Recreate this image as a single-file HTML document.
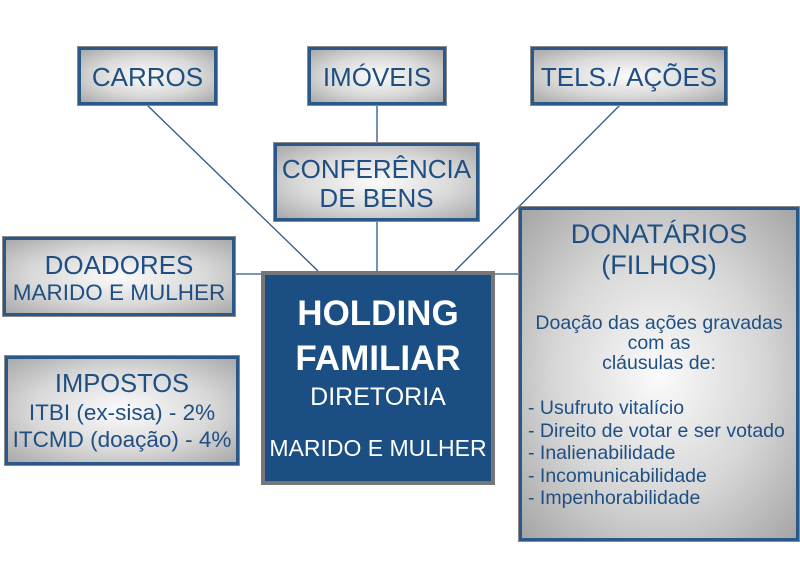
<!DOCTYPE html>
<html><head><meta charset="utf-8"><style>
body{margin:0;width:800px;height:566px;background:#fff;position:relative;overflow:hidden;font-family:"Liberation Sans",sans-serif;}
.b{position:absolute;box-sizing:border-box;border:3px solid #2a5889;outline:1px solid #8a8a8a;background:radial-gradient(ellipse at 50% 50%,#fbfbfb 0%,#d9d9d9 55%,#a9a9a9 100%);color:#1f4f82;text-align:center;white-space:nowrap}
svg{position:absolute;left:0;top:0}
</style></head><body>
<svg width="800" height="566"><g stroke="#2a5889" stroke-width="1.3">
<line x1="147" y1="105" x2="318" y2="271"/><line x1="377" y1="105" x2="377" y2="143"/>
<line x1="377" y1="221" x2="377" y2="271"/><line x1="620" y1="105" x2="455" y2="271"/>
<line x1="235" y1="274" x2="261" y2="274"/><line x1="495" y1="274" x2="519" y2="274"/></g></svg>
<div class="b" style="left:78px;top:47px;width:139px;height:58px;font-size:26px;line-height:54px">CARROS</div>
<div class="b" style="left:308px;top:47px;width:138px;height:58px;font-size:26px;line-height:54px">IMÓVEIS</div>
<div class="b" style="left:531px;top:47px;width:196px;height:58px;font-size:26px;line-height:54px">TELS./ AÇÕES</div>
<div class="b" style="left:274px;top:143px;width:205px;height:78px;font-size:26px;line-height:29px;padding-top:9px">CONFERÊNCIA<br>DE BENS</div>
<div class="b" style="left:3px;top:237px;width:232px;height:79px;padding-top:10px"><div style="font-size:26px;line-height:30px">DOADORES</div><div style="font-size:22.5px;line-height:26px">MARIDO E MULHER</div></div>
<div class="b" style="left:5px;top:356px;width:234px;height:109px;padding-top:11px"><div style="font-size:25.5px;line-height:29px">IMPOSTOS</div><div style="font-size:22.5px;line-height:27px">ITBI (ex-sisa) - 2%<br>ITCMD (doação) - 4%</div></div>
<div style="position:absolute;left:261px;top:271px;width:234px;height:214px;box-sizing:border-box;border:4px solid #777;background:#1b4f83;color:#fff;text-align:center;white-space:nowrap">
<div style="font-size:35px;font-weight:bold;margin-top:17px;line-height:44px">HOLDING</div>
<div style="font-size:35px;font-weight:bold;line-height:46px">FAMILIAR</div>
<div style="font-size:25px;line-height:30px">DIRETORIA</div>
<div style="font-size:23px;margin-top:23px">MARIDO E MULHER</div></div>
<div class="b" style="left:519px;top:207px;width:280px;height:334px;padding-top:9px;background:radial-gradient(ellipse at 50% 50%,#fbfbfb 0%,#d6d6d6 55%,#a5a5a5 100%)">
<div style="font-size:27px;line-height:31px">DONATÁRIOS<br>(FILHOS)</div>
<div style="font-size:19.5px;line-height:20px;margin-top:32px">Doação das ações gravadas<br>com as<br>cláusulas de:</div>
<div style="font-size:19.5px;line-height:22.5px;text-align:left;padding-left:6px;margin-top:24px">- Usufruto vitalício<br>- Direito de votar e ser votado<br>- Inalienabilidade<br>- Incomunicabilidade<br>- Impenhorabilidade</div></div>
</body></html>
